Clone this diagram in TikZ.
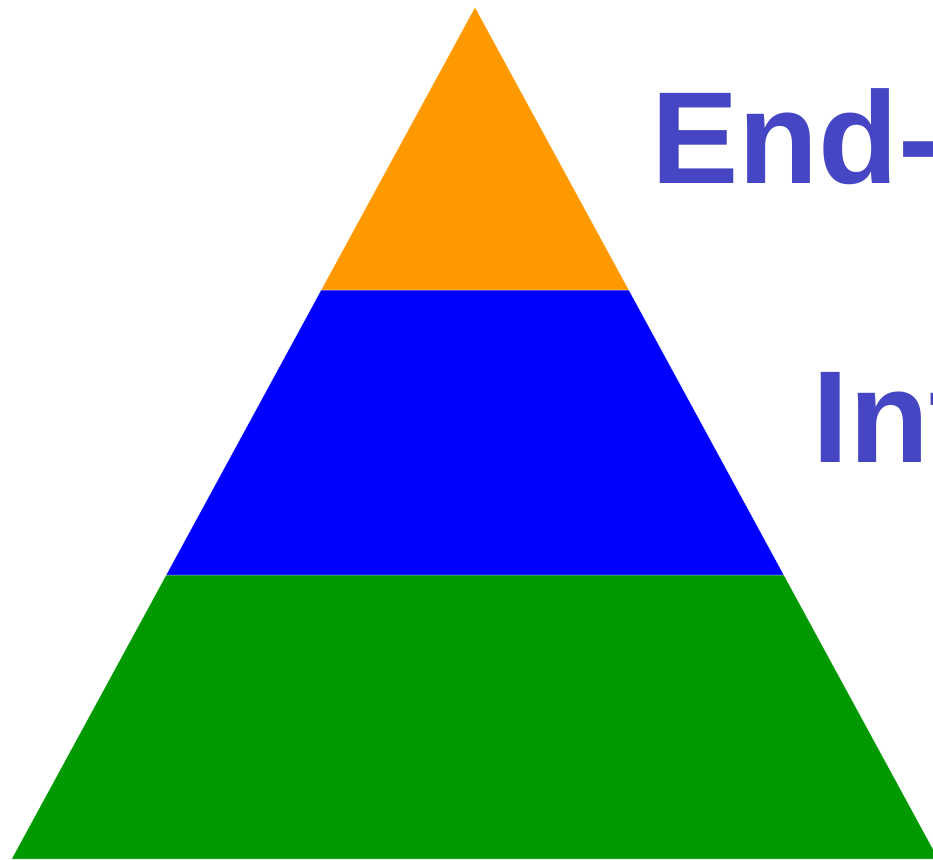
\documentclass[tikz,border=0pt]{standalone}
\usepackage{fontspec}
\setmainfont{Liberation Sans}
\definecolor{toporange}{HTML}{FF9900}
\definecolor{midblue}{HTML}{0000FF}
\definecolor{basegreen}{HTML}{009900}
\definecolor{textblue}{HTML}{4646C4}
\begin{document}
\begin{tikzpicture}[x=1pt,y=-1pt,
	layer/.style={draw=white,line width=0.4pt},
	title/.style={anchor=base west,inner sep=0pt,text=textblue,font=\fontsize{131}{131}\selectfont\bfseries}]
\useasboundingbox (0,0) rectangle (933,859);
\clip (0,0) rectangle (933,859);
\coordinate (apex) at (475,7);
\fill[color=basegreen,layer] (166,575) -- (784,575) -- (938.5,859) -- (11.5,859) -- cycle;
\fill[color=midblue,layer] (321,290) -- (629,290) -- (784,575) -- (166,575) -- cycle;
\fill[color=toporange,layer] (apex) -- (629,290) -- (321,290) -- cycle;
\node[title] (endlabel) at (651,183) {End-};
\node[title] (intlabel) at (812.6,462) {Int};
\end{tikzpicture}
\end{document}
